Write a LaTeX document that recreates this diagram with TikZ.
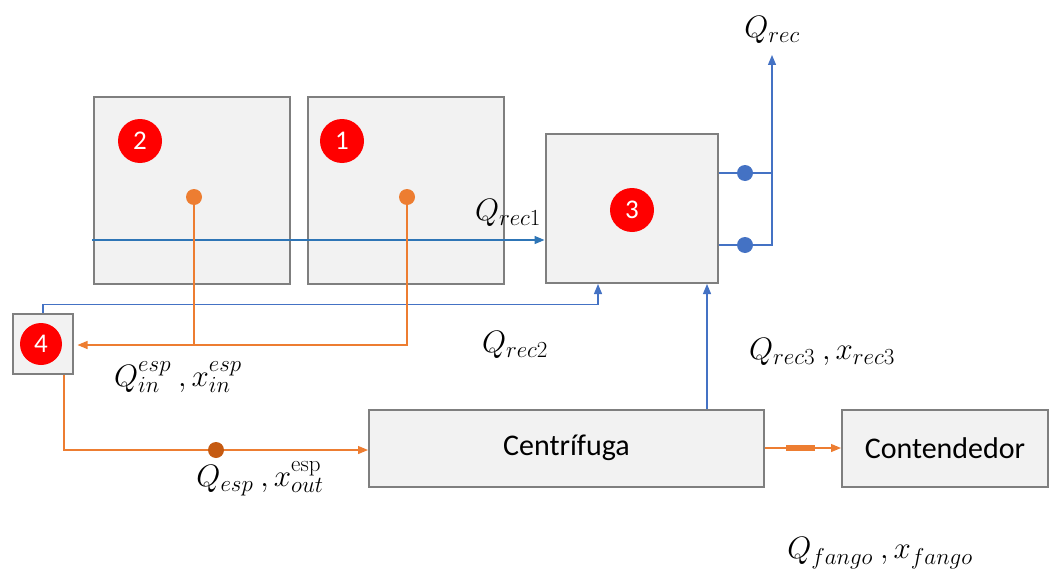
\RequirePackage{fix-cm}
\documentclass[tikz,border=0pt]{standalone}
\usepackage[no-math]{fontspec}
\setmainfont{Carlito}
\usetikzlibrary{arrows.meta,calc}
\DeclareMathSizes{31}{31}{23}{18}
\definecolor{boxfill}{HTML}{F2F2F2}
\definecolor{boxline}{HTML}{7F7F7F}
\definecolor{flowblue}{HTML}{4472C4}
\definecolor{recblue}{HTML}{2E75B6}
\definecolor{floworange}{HTML}{ED7D31}
\definecolor{darkorange}{HTML}{C55A11}
\tikzset{
  unit/.style={draw=boxline,fill=boxfill,line width=2pt,inner sep=0pt},
  badge/.style={circle,fill=red,text=white,minimum size=44pt,inner sep=0pt,font=\fontsize{27}{30}\selectfont},
  bflow/.style={draw=flowblue,line width=1.2pt},
  oflow/.style={draw=floworange,line width=1.2pt},
  tip/.style={-{Triangle[length=10pt,width=8pt]}},
  bdot/.style={circle,fill=flowblue,minimum size=16pt,inner sep=0pt},
  odot/.style={circle,fill=floworange,minimum size=16pt,inner sep=0pt},
  mlabel/.style={font=\fontsize{31}{36}\selectfont},
  tlabel/.style={font=\fontsize{30}{34}\selectfont}
}
\begin{document}
\begin{tikzpicture}[x=1pt,y=-1pt]
\useasboundingbox (0,0) rectangle (1049,578);

% process units
\node[unit,minimum width=196pt,minimum height=187pt] (b2) at (192,190.5) {};
\node[unit,minimum width=196pt,minimum height=187pt] (b1) at (406,190.5) {};
\node[unit,minimum width=172pt,minimum height=149pt] (b3) at (631.5,208.5) {};
\node[unit,minimum width=60pt,minimum height=60pt] (b4) at (42.5,343.5) {};
\node[unit,minimum width=395pt,minimum height=77pt,tlabel] (cent) at (566.5,448) {Centrífuga};
\node[unit,minimum width=206pt,minimum height=77pt,tlabel] (cont) at (945,448) {Contendedor};

% numbered badges
\node[badge] (n2) at (140,141) {2};
\node[badge] (n1) at (342,141) {1};
\node[badge] (n3) at (632,210) {3};
\node[badge,minimum size=42pt] (n4) at (41,344) {4};

% recycle 1 towards unit 3
\coordinate (r1s) at (92,240);
\draw[bflow,draw=recblue,line width=1.4pt,tip] (r1s) -- (r1s -| b3.west);

% recycle 2 from unit 4 to unit 3
\draw[bflow,tip] ([xshift=0.5pt]b4.north) -- ++(0,-8) -| ([xshift=-33.5pt]b3.south);

% recycle 3 from the centrifuge to unit 3
\draw[bflow,tip] ([xshift=140.5pt]cent.north) -- ([xshift=140.5pt]cent.north |- b3.south);

% outlets of unit 3 merging into Q_rec
\coordinate (qtop) at (772,55);
\draw[bflow] ([yshift=35.5pt]b3.east) -- ++(54.5,0);
\draw[bflow,tip] ([yshift=-36.5pt]b3.east) -| (qtop);
\node[bdot] (o1) at (745,173) {};
\node[bdot] (o2) at (745,245) {};

% sludge draw-off from units 1 and 2 to unit 4
\node[odot] (d2) at (194,197) {};
\node[odot] (d1) at (407,197) {};
\draw[oflow,tip] (d1) |- ([xshift=4pt,yshift=-1.5pt]b4.east);
\draw[oflow] (d2) -- (d2 |- 0,345);

% unit 4 to the centrifuge
\draw[oflow,tip] ([xshift=21.5pt]b4.south) |- ([yshift=-2pt]cent.west);
\node[circle,fill=darkorange,minimum size=16pt,inner sep=0pt] (d3) at (216,450) {};

% centrifuge to container
\draw[oflow,tip] (cent.east) -- (cont.west);
\node[fill=floworange,minimum width=29pt,minimum height=6pt,inner sep=0pt] (valve) at (800.5,448) {};

% flow labels
\node[mlabel] (lrec) at (772,30) {$Q_{rec}$};
\node[mlabel] (lrec1) at (508,213) {$Q_{rec1}$};
\node[mlabel] (lrec2) at (515,345) {$Q_{rec2}$};
\node[mlabel] (lrec3) at (822,352) {$Q_{rec3}\ ,x_{rec3}$};
\node[mlabel] (lin) at (178,377) {$Q_{in}^{esp}\ ,x_{in}^{esp}$};
\node[mlabel] (lesp) at (260,479) {$Q_{esp}\ ,x_{out}^{\mathrm{esp}}$};
\node[mlabel] (lfango) at (880,553) {$Q_{fango}\ ,x_{fango}$};
\end{tikzpicture}
\end{document}
